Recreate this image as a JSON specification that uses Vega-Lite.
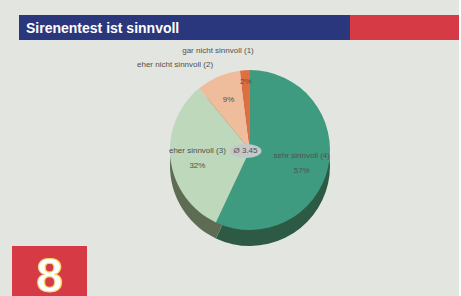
{
  "$schema": "https://vega.github.io/schema/vega-lite/v6.json",
  "background": "#e3e5e0",
  "padding": {"left": 12, "top": 15, "right": 0, "bottom": 0},
  "spacing": 0,
  "config": {
    "view": {"stroke": null},
    "concat": {"spacing": 0},
    "text": {"font": "Liberation Sans"}
  },
  "vconcat": [
    {
      "spacing": 0,
      "hconcat": [
        {
          "width": 7, "height": 25,
          "data": {"values": []},
          "mark": "rect"
        },
        {
          "width": 331, "height": 25,
          "view": {"fill": "#2b377d", "stroke": null},
          "data": {"values": [{"title": "Sirenentest ist sinnvoll"}]},
          "mark": {"type": "text", "align": "left", "baseline": "middle", "dx": 7, "dy": 1, "color": "#ffffff", "fontWeight": "bold", "fontSize": 14, "font": "Liberation Sans"},
          "encoding": {
            "x": {"datum": 0, "type": "quantitative", "scale": {"domain": [0, 1]}, "axis": null},
            "text": {"field": "title"}
          }
        },
        {
          "width": 109, "height": 25,
          "view": {"fill": "#d63a44", "stroke": null},
          "data": {"values": []},
          "mark": "rect"
        }
      ]
    },
    {
      "width": 447, "height": 204,
      "data": {"values": [
        {"answer": "sehr sinnvoll", "score": 4, "pct": 57, "label": "sehr sinnvoll (4)", "pctText": "57%"},
        {"answer": "eher sinnvoll", "score": 3, "pct": 32, "label": "eher sinnvoll (3)", "pctText": "32%"},
        {"answer": "eher nicht sinnvoll", "score": 2, "pct": 9, "label": "eher nicht sinnvoll (2)", "pctText": "9%"},
        {"answer": "gar nicht sinnvoll", "score": 1, "pct": 2, "label": "gar nicht sinnvoll (1)", "pctText": "2%"}
      ]},
      "resolve": {"scale": {"color": "independent"}},
      "layer": [
        {
          "mark": {"type": "arc", "radius": 80, "xOffset": 14.5, "yOffset": 24, "stroke": null},
          "encoding": {
            "theta": {"field": "pct", "type": "quantitative", "stack": true},
            "order": {"field": "score", "sort": "descending"},
            "color": {"field": "answer", "type": "nominal", "legend": null,
              "scale": {"domain": ["sehr sinnvoll", "eher sinnvoll", "eher nicht sinnvoll", "gar nicht sinnvoll"],
                        "range": ["#2d5a45", "#5d6c53", "#8a7060", "#8a4a30"]}}
          }
        },
        {
          "mark": {"type": "arc", "radius": 80, "xOffset": 14.5, "yOffset": 8, "stroke": null},
          "encoding": {
            "theta": {"field": "pct", "type": "quantitative", "stack": true},
            "order": {"field": "score", "sort": "descending"},
            "color": {"field": "answer", "type": "nominal", "legend": null,
              "scale": {"domain": ["sehr sinnvoll", "eher sinnvoll", "eher nicht sinnvoll", "gar nicht sinnvoll"],
                        "range": ["#3f9b7f", "#bdd8bb", "#efbd9b", "#df6f40"]}}
          }
        },
        {
          "mark": {"type": "text", "radius": 53, "xOffset": 14.5, "yOffset": 8, "dy": -6, "fontSize": 8, "color": "#505050"},
          "encoding": {
            "theta": {"field": "pct", "type": "quantitative", "stack": true},
            "order": {"field": "score", "sort": "descending"},
            "text": {"condition": {"test": "datum.score >= 3", "field": "label"}, "value": ""}
          }
        },
        {
          "mark": {"type": "text", "radius": 53, "xOffset": 14.5, "yOffset": 8, "dy": 9, "fontSize": 8, "color": "#505050"},
          "encoding": {
            "theta": {"field": "pct", "type": "quantitative", "stack": true},
            "order": {"field": "score", "sort": "descending"},
            "text": {"condition": {"test": "datum.score >= 3", "field": "pctText"}, "value": ""}
          }
        },
        {
          "mark": {"type": "text", "radius": 54, "xOffset": 14.5, "yOffset": 8, "fontSize": 8, "color": "#505050"},
          "encoding": {
            "theta": {"field": "pct", "type": "quantitative", "stack": true},
            "order": {"field": "score", "sort": "descending"},
            "text": {"condition": {"test": "datum.score == 2", "field": "pctText"}, "value": ""}
          }
        },
        {
          "mark": {"type": "text", "radius": 68, "xOffset": 14.5, "yOffset": 8, "fontSize": 8, "color": "#505050"},
          "encoding": {
            "theta": {"field": "pct", "type": "quantitative", "stack": true},
            "order": {"field": "score", "sort": "descending"},
            "text": {"condition": {"test": "datum.score == 1", "field": "pctText"}, "value": ""}
          }
        },
        {
          "mark": {"type": "text", "radius": 93, "xOffset": 14.5, "yOffset": 8, "align": "right", "fontSize": 8, "color": "#505050"},
          "encoding": {
            "theta": {"field": "pct", "type": "quantitative", "stack": true},
            "order": {"field": "score", "sort": "descending"},
            "text": {"condition": {"test": "datum.score == 2", "field": "label"}, "value": ""}
          }
        },
        {
          "mark": {"type": "text", "radius": 99, "xOffset": 14.5, "yOffset": 8, "align": "right", "dx": 10, "fontSize": 8, "color": "#505050"},
          "encoding": {
            "theta": {"field": "pct", "type": "quantitative", "stack": true},
            "order": {"field": "score", "sort": "descending"},
            "text": {"condition": {"test": "datum.score == 1", "field": "label"}, "value": ""}
          }
        },
        {
          "data": {"values": [{"avg": "Ø 3.45"}]},
          "mark": {"type": "point", "filled": true, "opacity": 1, "size": 400, "color": "#c5c8c8", "xOffset": 10, "yOffset": 9,
                   "shape": "M-1.6,0 A1.6,0.7 0 1,0 1.6,0 A1.6,0.7 0 1,0 -1.6,0 Z"},
          "encoding": {}
        },
        {
          "data": {"values": [{"avg": "Ø 3.45"}]},
          "mark": {"type": "text", "xOffset": 10, "yOffset": 9, "baseline": "middle", "fontSize": 8, "color": "#505050"},
          "encoding": {"text": {"field": "avg"}}
        }
      ]
    },
    {
      "width": 75, "height": 52,
      "view": {"fill": "#d63a44", "stroke": null},
      "data": {"values": [{"page": "8"}]},
      "mark": {"type": "text", "baseline": "alphabetic", "dy": 20, "fontSize": 48, "fontWeight": "bold", "color": "#ffffff", "stroke": "#f2d76a", "strokeWidth": 1, "font": "Liberation Sans"},
      "encoding": {"text": {"field": "page"}}
    }
  ]
}
